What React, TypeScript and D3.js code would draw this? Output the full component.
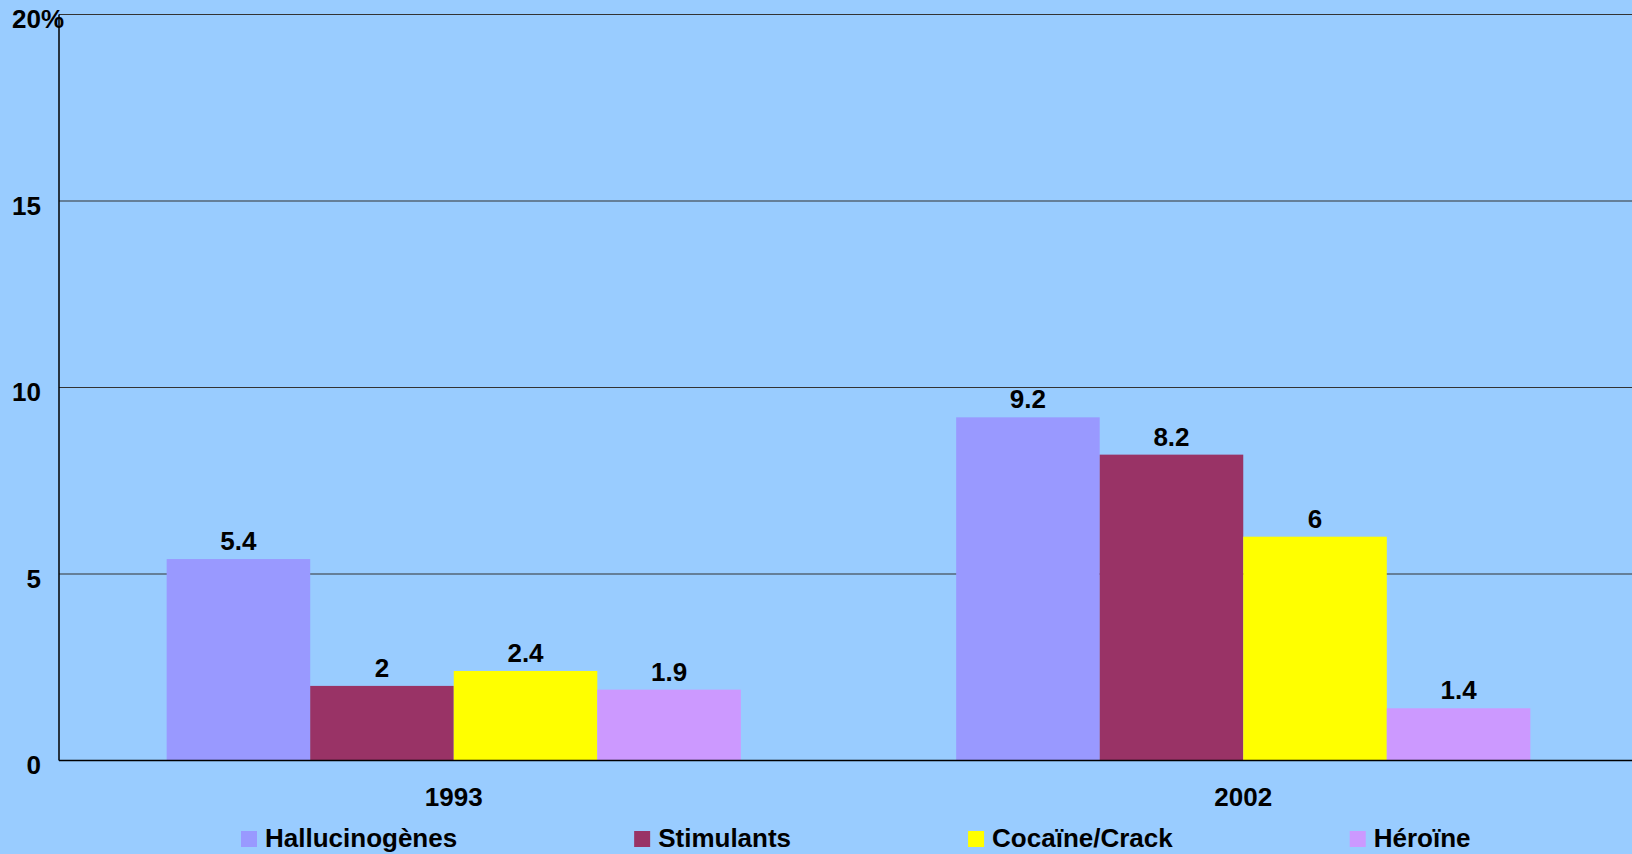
import React, { useEffect, useRef } from 'react';
import * as d3 from 'd3';

const years = ['1993', '2002'];
const drugs = ['Hallucinogènes', 'Stimulants', 'Cocaïne/Crack', 'Héroïne'];
const values1993 = [5.4, 2, 2.4, 1.9];
const values2002 = [9.2, 8.2, 6, 1.4];
const yTicks = [0, 5, 10, 15, 20];
const colors = ['#9999FF', '#993366', '#FFFF00', '#CC99FF'];

const App = () => {
  const svgRef = useRef<SVGSVGElement>(null);

  useEffect(() => {
    const width = 1632;
    const height = 854;
    const margin = { top: 14.5, right: -6, bottom: 93.5, left: 59 };
    const font = "'Liberation Sans', Arial, sans-serif";
    const fontSize = 26;

    const svg = d3.select(svgRef.current);
    svg.selectAll('*').remove();
    svg.attr('viewBox', [0, 0, width, height]);

    // background
    svg.append('rect')
      .attr('width', width)
      .attr('height', height)
      .attr('fill', '#99CCFF');

    const rows = years.map((year, i) => ({
      year,
      values: i === 0 ? values1993 : values2002,
    }));

    // scales
    const x0 = d3.scaleBand()
      .domain(years)
      .range([margin.left, width - margin.right]);

    const x1 = d3.scaleBand()
      .domain(drugs)
      .range([0, x0.bandwidth()])
      .paddingOuter(0.75);

    const y = d3.scaleLinear()
      .domain([0, 20])
      .range([height - margin.bottom, margin.top]);

    // grid lines
    svg.append('g')
      .selectAll('line')
      .data(yTicks.filter(d => d > 0))
      .join('line')
      .attr('x1', margin.left)
      .attr('x2', width - margin.right)
      .attr('y1', d => y(d))
      .attr('y2', d => y(d))
      .attr('stroke', '#333')
      .attr('stroke-width', 1.2);

    // bars
    const group = svg.append('g')
      .selectAll('g')
      .data(rows)
      .join('g')
      .attr('transform', d => `translate(${x0(d.year)},0)`);

    group.selectAll('rect')
      .data(d => d.values.map((v, i) => ({ drug: drugs[i], value: v, i })))
      .join('rect')
      .attr('x', d => x1(d.drug))
      .attr('width', x1.bandwidth())
      .attr('y', d => y(d.value))
      .attr('height', d => y(0) - y(d.value))
      .attr('fill', d => colors[d.i]);

    // value labels
    group.selectAll('text')
      .data(d => d.values.map((v, i) => ({ drug: drugs[i], value: v })))
      .join('text')
      .attr('x', d => x1(d.drug) + x1.bandwidth() / 2)
      .attr('y', d => y(d.value) - 9)
      .attr('text-anchor', 'middle')
      .attr('font-family', font)
      .attr('font-weight', 'bold')
      .attr('font-size', fontSize)
      .text(d => String(d.value));

    // axes lines
    svg.append('line')
      .attr('x1', margin.left)
      .attr('x2', width - margin.right)
      .attr('y1', y(0))
      .attr('y2', y(0))
      .attr('stroke', '#000')
      .attr('stroke-width', 1.5);

    svg.append('line')
      .attr('x1', margin.left)
      .attr('x2', margin.left)
      .attr('y1', y(20))
      .attr('y2', y(0))
      .attr('stroke', '#000')
      .attr('stroke-width', 1.5);

    // y tick labels
    const yLabels = svg.append('g')
      .attr('font-family', font)
      .attr('font-weight', 'bold')
      .attr('font-size', fontSize);

    yLabels.selectAll('text.tick')
      .data(yTicks)
      .join('text')
      .attr('class', 'tick')
      .attr('x', 41)
      .attr('y', d => y(d) + 13.5)
      .attr('text-anchor', 'end')
      .text(d => String(d));

    yLabels.append('text')
      .attr('x', 41)
      .attr('y', y(20) + 13.5)
      .text('%');

    // category labels
    svg.append('g')
      .selectAll('text')
      .data(years)
      .join('text')
      .attr('x', d => x0(d) + x0.bandwidth() / 2)
      .attr('y', y(0) + 45)
      .attr('text-anchor', 'middle')
      .attr('font-family', font)
      .attr('font-weight', 'bold')
      .attr('font-size', fontSize)
      .text(d => d);

    // legend (kept just inside the bottom edge)
    const legend = svg.append('g');
    let lx = 241;
    drugs.forEach((name, i) => {
      legend.append('rect')
        .attr('x', lx)
        .attr('y', 831)
        .attr('width', 16)
        .attr('height', 16)
        .attr('fill', colors[i]);
      const t = legend.append('text')
        .attr('x', lx + 24)
        .attr('y', 847)
        .attr('font-family', font)
        .attr('font-weight', 'bold')
        .attr('font-size', fontSize)
        .text(name);
      const w = (t.node() as SVGTextElement).getComputedTextLength();
      lx += 24 + w + 177;
    });
  });

  return (
    <svg
      ref={svgRef}
      width={1632}
      height={854}
      style={{ position: 'absolute', left: 0, top: 0, display: 'block' }}
    ></svg>
  );
};

export default App;
